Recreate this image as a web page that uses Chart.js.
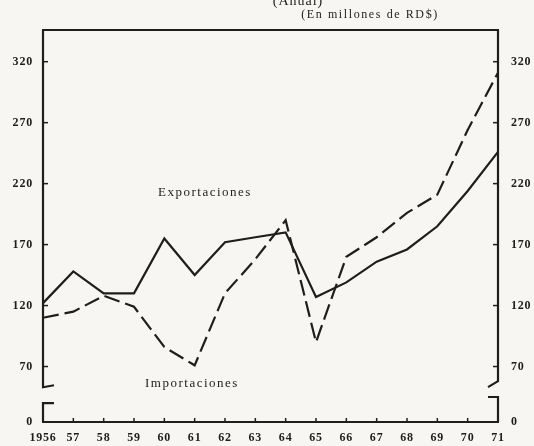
<!DOCTYPE html>
<html>
<head>
<meta charset="utf-8">
<script src="https://cdn.jsdelivr.net/npm/chart.js@4.4.1/dist/chart.umd.min.js"></script>
<style>
  html, body { margin: 0; padding: 0; background: #f7f6f2; }
  #wrap { position: relative; width: 534px; height: 446px; }
</style>
</head>
<body>
<div id="wrap"><canvas id="c" width="534" height="446"></canvas></div>
<script>
// ---- data (millones de RD$) ----
const years = ['1956','57','58','59','60','61','62','63','64','65','66','67','68','69','70','71'];
const exportaciones = [122, 148, 130, 130, 175, 145, 172, 176, 180, 127, 139, 156, 166, 185, 214, 246];
const importaciones = [110, 115, 128, 119, 86, 71, 130, 158, 190, 90, 160, 176, 196, 211, 264, 311];
const yTickValues = [0, 70, 120, 170, 220, 270, 320];
const titleLine1 = '(Anual)';
const titleLine2 = '(En millones de RD$)';
const seriesNames = ['Exportaciones', 'Importaciones'];

// broken axis: value 0 is drawn at the foot of the axis
const ZERO_AT = 24.5;
const Y_MAX = 346;
const INK = '#1e1e1e';
const FONT = "'Liberation Serif', 'DejaVu Serif', serif";

const frame = {
  id: 'frame',
  beforeDraw(chart) {
    chart.ctx.letterSpacing = '0.8px';
  },
  afterDraw(chart) {
    const ctx = chart.ctx;
    const a = chart.chartArea;
    const x = chart.scales.x, y = chart.scales.y;
    ctx.save();
    ctx.strokeStyle = INK;
    ctx.lineWidth = 2.2;
    ctx.lineCap = 'butt';
    // top border
    ctx.beginPath();
    ctx.moveTo(a.left - 1, a.top); ctx.lineTo(a.right + 1, a.top); ctx.stroke();
    // bottom axis
    ctx.beginPath();
    ctx.moveTo(a.left - 1, a.bottom); ctx.lineTo(a.right + 1, a.bottom); ctx.stroke();
    // left axis with break
    const lUp = y.getPixelForValue(53), lLow = y.getPixelForValue(40);
    ctx.beginPath();
    ctx.moveTo(a.left, a.top); ctx.lineTo(a.left, lUp); ctx.lineTo(a.left + 11, lUp - 2);
    ctx.stroke();
    ctx.beginPath();
    ctx.moveTo(a.left + 11, lLow); ctx.lineTo(a.left, lLow); ctx.lineTo(a.left, a.bottom);
    ctx.stroke();
    // right axis with break
    const rUp = y.getPixelForValue(58), rLow = y.getPixelForValue(45);
    ctx.beginPath();
    ctx.moveTo(a.right, a.top); ctx.lineTo(a.right, rUp); ctx.lineTo(a.right - 10, rUp + 6);
    ctx.stroke();
    ctx.beginPath();
    ctx.moveTo(a.right - 10, rLow); ctx.lineTo(a.right, rLow); ctx.lineTo(a.right, a.bottom);
    ctx.stroke();
    // tick marks (inward)
    ctx.lineWidth = 1.5;
    yTickValues.forEach(v => {
      if (v === 0) return;
      const py = y.getPixelForValue(v);
      ctx.beginPath(); ctx.moveTo(a.left, py); ctx.lineTo(a.left + 5, py); ctx.stroke();
      ctx.beginPath(); ctx.moveTo(a.right, py); ctx.lineTo(a.right - 5, py); ctx.stroke();
    });
    for (let i = 1; i < years.length - 1; i++) {
      const px = x.getPixelForValue(i);
      ctx.beginPath(); ctx.moveTo(px, a.bottom); ctx.lineTo(px, a.bottom - 4); ctx.stroke();
    }
    // titles
    ctx.fillStyle = INK;
    ctx.textAlign = 'center';
    ctx.textBaseline = 'middle';
    ctx.letterSpacing = '1px';
    ctx.font = '14px ' + FONT;
    ctx.fillText(titleLine1, 298, 1);
    ctx.font = '12px ' + FONT;
    ctx.letterSpacing = '1.6px';
    ctx.fillText(titleLine2, 370, 15);
    // series labels
    ctx.font = '13px ' + FONT;
    ctx.letterSpacing = '1.5px';
    ctx.fillText(seriesNames[0], x.getPixelForValue(5.34), y.getPixelForValue(213));
    ctx.fillText(seriesNames[1], x.getPixelForValue(4.91), y.getPixelForValue(56));
    ctx.restore();
  }
};

const tickFont = { family: FONT, size: 12, weight: 'bold' };

new Chart(document.getElementById('c'), {
  type: 'line',
  data: {
    labels: years,
    datasets: [
      { label: seriesNames[0], data: exportaciones, borderColor: INK, borderWidth: 2.2,
        pointRadius: 0, tension: 0, fill: false },
      { label: seriesNames[1], data: importaciones, borderColor: INK, borderWidth: 2.2,
        borderDash: [16, 6], pointRadius: 0, tension: 0, fill: false, yAxisID: 'y' }
    ]
  },
  options: {
    responsive: false,
    animation: false,
    events: [],
    layout: { padding: { top: 30, left: 0, right: 0, bottom: 0 } },
    plugins: { legend: { display: false }, title: { display: false }, tooltip: { enabled: false } },
    scales: {
      x: {
        type: 'category',
        offset: false,
        grid: { display: false, drawTicks: false },
        border: { display: false },
        ticks: { font: tickFont, color: INK, padding: 9, maxRotation: 0, autoSkip: false },
        afterFit(s) { s.height = 24; }
      },
      y: {
        position: 'left',
        min: ZERO_AT, max: Y_MAX,
        grid: { display: false, drawTicks: false },
        border: { display: false },
        afterBuildTicks(s) { s.ticks = yTickValues.map(v => ({ value: v === 0 ? ZERO_AT : v })); },
        ticks: { font: tickFont, color: INK, padding: 10,
                 callback: v => (v === ZERO_AT ? '0' : String(v)) },
        afterFit(s) { s.width = 43; }
      },
      y2: {
        position: 'right',
        min: ZERO_AT, max: Y_MAX,
        grid: { display: false, drawTicks: false },
        border: { display: false },
        afterBuildTicks(s) { s.ticks = yTickValues.map(v => ({ value: v === 0 ? ZERO_AT : v })); },
        ticks: { font: tickFont, color: INK, padding: 13,
                 callback: v => (v === ZERO_AT ? '0' : String(v)) },
        afterFit(s) { s.width = 36; }
      }
    }
  },
  plugins: [frame]
});
</script>
</body>
</html>
